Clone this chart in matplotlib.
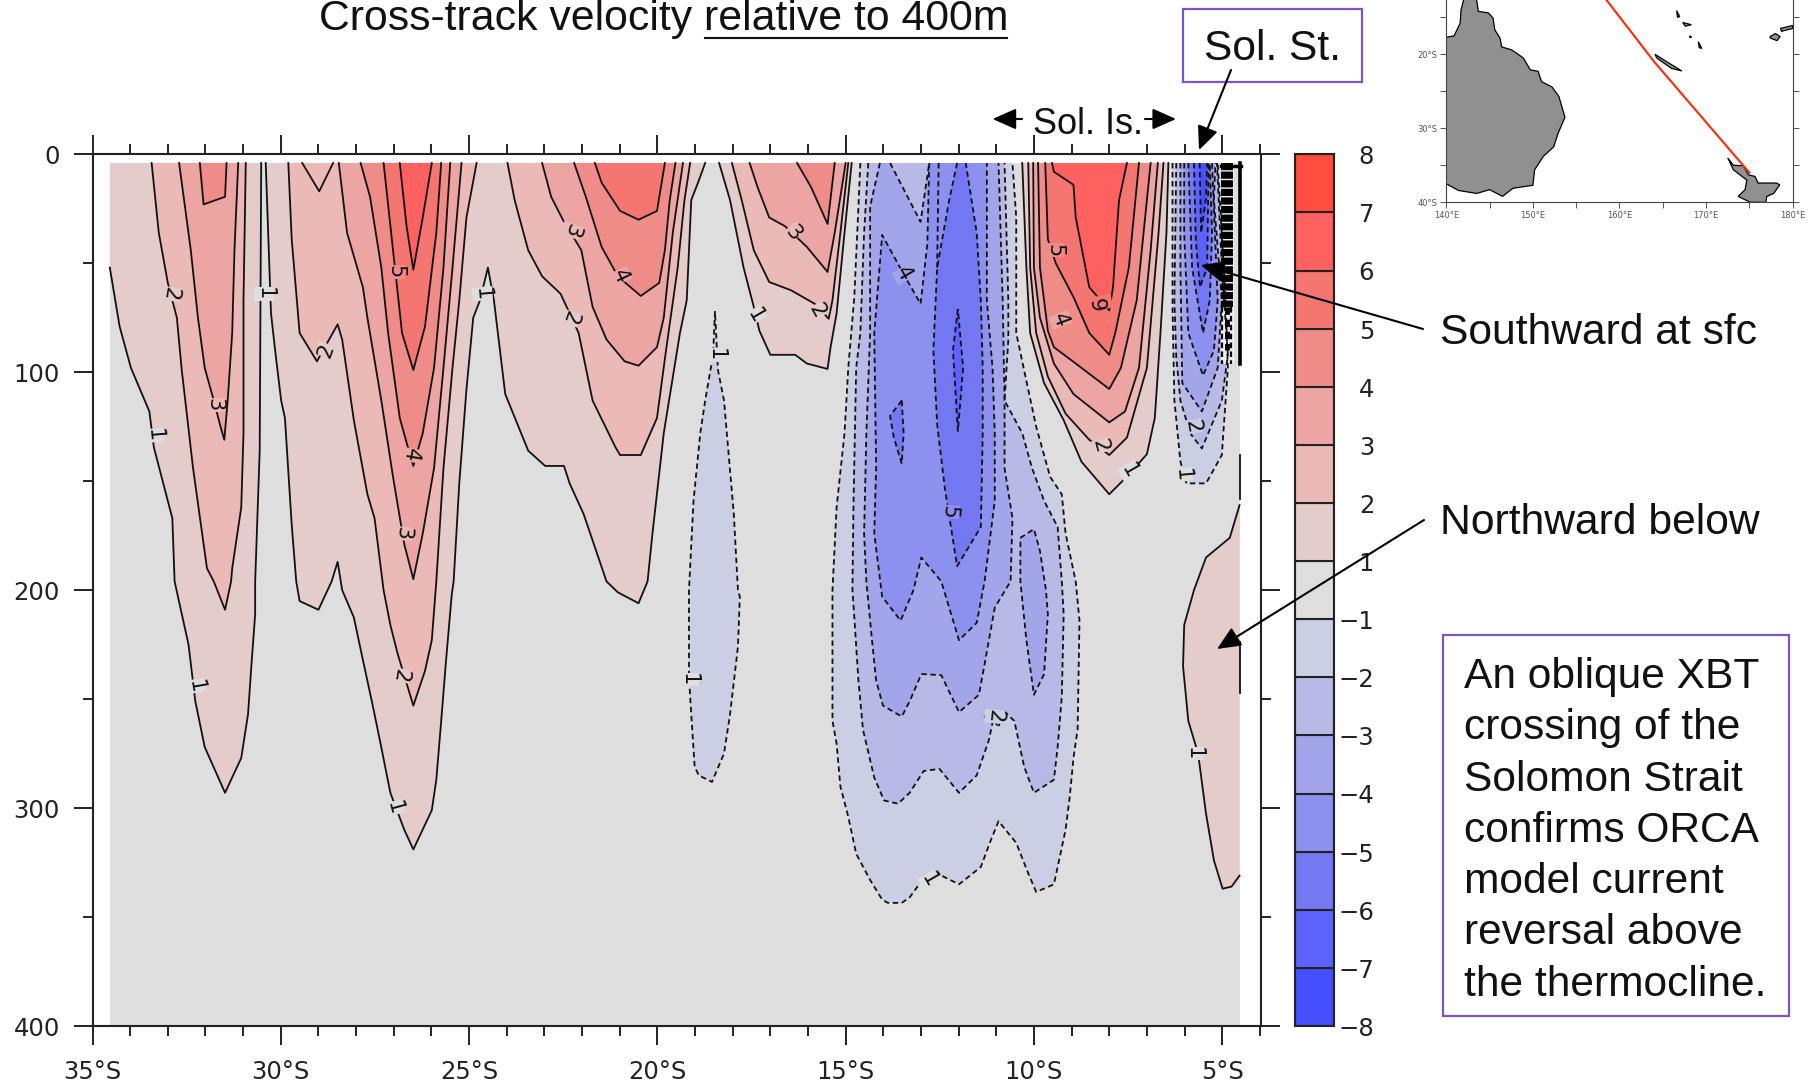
import matplotlib
matplotlib.use("Agg")
import matplotlib.pyplot as plt
from matplotlib.patches import Rectangle
from matplotlib.ticker import MultipleLocator, FixedLocator, FuncFormatter

W, H = 1813, 1086
TEXT_FONT = "Liberation Sans"
AXIS_FONT = "DejaVu Sans"

# contour outlines: (lon, depth)
A1 = ([-34.54, -34.28, -33.98, -33.49, -33.37, -32.88, -32.82, -32.45, -32.27, -32.02, -31.48, -31.05, -30.87, -30.77, -30.68, -30.68, -30.56, -30.52],
      [52, 79, 98, 118, 134.5, 167, 196, 225, 251, 272, 293, 277, 257, 232, 211, 196, 136, 4])
BC1 = ([-30.4, -30.26, -30.13, -29.99, -29.89, -29.71, -29.59, -29.5, -29.0, -28.65, -28.49, -28.37, -28.06, -27.82, -27.57, -27.35, -27.09, -26.72, -26.48, -25.99, -25.87, -25.74, -25.62, -25.46, -25.41, -25.26, -25.07, -24.89, -24.71, -24.5, -24.34, -24.04, -23.43, -22.98, -22.48, -22.33, -21.96, -21.35, -21.05, -20.5, -20.26, -20.13, -19.83, -19.4, -19.22, -19.1, -18.92, -18.73],
       [4, 73, 93, 113, 121, 170, 196, 205, 209, 196, 187, 200, 212.5, 232, 252, 270.5, 293, 310, 319, 301, 287, 260, 234, 202, 196, 151, 108, 75, 67, 52, 67, 110, 136, 143, 143, 151, 165, 196, 201, 206, 196, 174, 128, 82, 67, 21, 13, 4])
D1 = ([-18.36, -18.07, -17.71, -17.44, -17.29, -17.0, -16.34, -16.03, -15.48, -15.4, -15.24, -15.03, -14.84],
      [4, 21, 52, 70, 81, 92, 92, 96, 98.5, 88.5, 73, 36, 4])
G1 = ([-10.31, -10.2, -10.1, -9.73, -9.21, -8.74, -8.0, -7.48, -7.0, -6.79, -6.64, -6.48, -6.43],
      [4, 52, 82, 105, 122, 141, 156, 147, 137.6, 121, 82, 36, 4])
H1 = ([-4.54, -4.8, -5.43, -5.75, -6.01, -6.04, -5.9, -5.64, -5.43, -5.22, -4.99, -4.75, -4.54],
      [161, 176, 185, 200, 216, 235, 260, 275, 302.6, 324, 337, 336, 331])

A2 = ([-33.43, -33.24, -33.0, -32.76, -32.63, -32.33, -31.96, -31.78, -31.48, -31.32, -31.29, -31.05, -30.99, -30.99, -30.93],
      [4, 36, 59, 75, 99, 144, 190, 196, 209, 196, 190, 162, 128, 67, 4])
B2 = ([-29.8, -29.71, -29.5, -29.04, -28.49, -28.37, -28.06, -27.7, -27.51, -27.27, -27.09, -26.9, -26.48, -26.17, -25.99, -25.87, -25.68, -25.44, -25.26, -25.07, -24.8],
      [4, 39, 82, 95, 78, 85, 122, 156, 167, 200, 216, 229, 253, 237, 223, 196, 144, 98, 67, 29, 4])
C2 = ([-23.98, -23.79, -23.43, -23.06, -22.57, -22.09, -21.72, -21.11, -20.99, -20.44, -20.01, -19.77, -19.46, -19.28, -19.13],
      [4, 21, 44, 56, 64, 82, 113, 134.5, 138, 138, 121, 90, 52, 21, 4])
D2 = ([-18.02, -17.76, -17.44, -17.03, -16.45, -15.82, -15.45, -15.35, -15.14, -14.93],
      [4, 21, 44, 58.6, 62.4, 68.6, 75.5, 67, 36, 4])
G2 = ([-10.15, -10.1, -9.94, -9.63, -9.16, -8.53, -8.0, -7.53, -7.0, -6.69, -6.56],
      [4, 52, 82, 102, 119, 131, 138, 130, 98, 36, 4])

A3 = ([-32.7, -32.39, -32.2, -32.02, -31.78, -31.6, -31.5, -31.41, -31.29, -31.23, -31.13],
      [4, 44, 75, 98, 113, 125, 131, 113, 82, 44, 4])
WEDGE3 = ([-29.43, -28.98, -28.61], [4, 17, 4])
B3 = ([-28.46, -28.24, -27.82, -27.7, -27.33, -27.02, -26.72, -26.48, -26.23, -25.93, -25.68, -25.44, -25.2],
      [4, 36, 61, 75, 113, 148, 179, 195, 174, 144, 98, 52, 4])
C3 = ([-23.06, -22.82, -22.51, -22.02, -21.72, -21.35, -20.87, -20.5, -20.01, -19.83, -19.59, -19.32],
      [4, 19.5, 30, 44, 70, 85, 95, 97, 88.5, 75, 36, 4])
D3 = ([-17.55, -17.34, -17.03, -16.61, -16.03, -15.48, -15.29, -15.0],
      [4, 15, 29, 33, 42.5, 54, 36, 4])
G3 = ([-10.02, -10.0, -9.84, -9.47, -8.95, -8.0, -7.58, -7.21, -6.9, -6.71],
      [4, 52, 75, 96, 110, 123, 118, 98, 44, 4])

A4 = ([-32.15, -32.05, -31.48, -31.44], [4, 23, 19.5, 4])
B4 = ([-27.88, -27.63, -27.33, -27.15, -26.84, -26.6, -26.48, -26.23, -25.93, -25.68, -25.5],
      [4, 19.5, 52, 82, 121, 136, 143, 128, 98, 52, 4])
C4 = ([-22.21, -21.9, -21.48, -21.05, -20.44, -19.95, -19.8, -19.67, -19.52],
      [4, 19.5, 42.5, 56, 65, 59, 44, 21, 4])
D4 = ([-16.29, -15.92, -15.48, -15.29], [4, 15, 32, 4])
G4 = ([-9.89, -9.84, -9.63, -9.47, -8.89, -8.0, -7.69, -7.27, -7.0, -6.9],
      [4, 52, 81, 88.5, 96, 107.7, 98, 67, 21, 4])

B5 = ([-27.27, -27.02, -26.78, -26.48, -26.17, -25.87, -25.74], [4, 44, 82, 99, 79, 36, 4])
C5 = ([-21.66, -21.48, -20.99, -20.5, -20.01, -19.8], [4, 13, 26, 30, 26, 4])
G5 = ([-9.7, -9.63, -9.42, -8.95, -8.53, -8.0, -7.84, -7.48, -7.21], [4, 39, 50, 65.5, 82, 92, 82, 52, 4])

B6 = ([-26.84, -26.66, -26.48, -26.23, -25.99], [4, 33, 53, 29, 4])
G6 = ([-9.52, -9.47, -8.95, -8.89, -8.53, -8.0, -7.9, -7.74, -7.53], [4, 8, 14, 29, 61, 71.6, 61, 21, 4])

L1 = ([-18.47, -18.52, -18.73, -18.86, -19.04, -19.16, -19.16, -19.1, -19.01, -18.9, -18.55, -18.23, -18.07, -17.86, -17.81, -17.86, -17.97, -18.23, -18.39, -18.47],
      [72, 92, 113, 128, 159, 200, 240, 257, 281, 285, 288, 275, 257, 226, 203, 200, 165, 113, 99, 72])
M1 = ([-14.61, -14.66, -14.77, -14.93, -14.98, -15.03, -15.24, -15.35, -15.35, -15.24, -15.14, -14.93, -14.72, -14.35, -14.03, -13.88, -13.51, -13.3, -12.88, -12.57, -11.99, -11.41, -11.15, -10.94, -10.47, -10.15, -9.94, -9.47, -9.37, -9.16, -9.05, -8.95, -8.84, -8.79, -8.89, -9.16, -9.26, -9.57, -9.94, -10.2, -10.47, -10.47, -10.57],
      [4, 24, 65.5, 98, 113, 128, 162, 200, 260, 270.5, 290, 304, 321, 333, 342, 343.5, 343.5, 341, 331, 330, 335, 327, 315, 306, 316, 330, 338.5, 335, 327, 310, 295, 277, 264, 214, 196, 174, 156, 148, 125, 104, 82, 29, 4])
S1 = ([-6.32, -6.32, -6.27, -6.11, -5.95, -5.43, -5.01, -4.85, -4.91, -5.12],
      [4, 70, 113, 141, 151, 151, 138, 98, 67, 4])

M2 = ([-14.4, -14.51, -14.61, -14.72, -14.79, -14.82, -14.77, -14.66, -14.54, -14.24, -13.98, -13.61, -13.3, -12.93, -12.51, -11.99, -11.52, -11.2, -11.1, -11.31, -11.15, -10.94, -10.83, -10.52, -10.26, -10.0, -9.47, -9.37, -9.26, -9.21, -9.26, -9.37, -9.73, -10.05, -10.31, -10.78, -10.68, -10.68, -10.78],
      [4, 36, 82, 98, 159, 200, 212.5, 241.5, 264, 286, 296.5, 298, 293, 283, 282, 293, 285, 269, 261, 258, 257, 263, 255, 260, 281, 293, 287, 272, 249, 211, 196, 171, 159, 144, 128, 113, 85, 67, 4])
S2 = ([-6.22, -6.27, -6.22, -6.11, -5.85, -5.54, -5.01, -4.85, -5.01, -5.14],
      [4, 67, 93, 113, 128, 135, 113, 92, 52, 4])

M3 = ([-14.09, -14.35, -14.35, -14.45, -14.51, -14.45, -14.3, -14.19, -14.01, -13.51, -13.3, -12.99, -12.46, -11.99, -11.46, -11.31, -11.04, -10.62, -10.57, -10.78, -10.78, -10.83, -10.94],
      [4, 24, 82, 128, 174, 196, 223, 241.5, 253, 258, 251, 238.5, 239, 256, 248, 234, 208, 196, 167, 144, 113, 67, 4])
M3_WEDGE = ([-13.82, -13.01, -12.78], [4, 31, 4])
M3_LOBE = ([-10.36, -10.0, -9.84, -9.68, -9.63, -9.73, -10.0, -10.2, -10.36, -10.36],
           [176, 172, 182, 200, 211, 238.5, 248, 223, 196, 176])
S3 = ([-6.11, -6.11, -6.06, -5.54, -5.12, -5.01, -5.22, -5.18],
      [4, 52, 105, 118, 98, 67, 21, 4])

M4 = ([-12.78, -12.83, -13.01, -13.46, -14.03, -14.24, -14.19, -14.24, -14.03, -13.54, -13.2, -12.99, -12.46, -11.99, -11.52, -11.31, -11.04, -11.04, -11.1, -11.25, -11.25],
      [4, 41, 68.6, 55, 37, 82, 144, 174, 203, 214, 200, 185, 196, 223, 215, 196, 159, 128, 98, 67, 4])
S4 = ([-6.01, -6.01, -5.9, -5.51, -5.22, -5.12, -5.27], [4, 36, 82, 101.5, 90, 67, 4])

M5 = ([-12.04, -12.25, -12.57, -12.67, -12.57, -12.36, -12.04, -11.41, -11.36, -11.36, -11.41, -11.52, -11.81],
      [4, 21, 52, 90, 124, 154, 189, 171, 128, 98, 67, 36, 4])
M5_SMALL = ([-13.51, -13.82, -13.72, -13.51, -13.46, -13.51], [113, 120, 130, 142, 128, 113])
M5_LINE = ([-12.53, -12.57], [4, 52])
S5 = ([-5.9, -5.8, -5.51, -5.33, -5.27, -5.33], [4, 52, 82, 67, 36, 4])

M6 = ([-12.02, -12.15, -12.02, -11.88, -12.02], [71, 90, 127, 98, 71])
S6 = ([-5.75, -5.7, -5.59, -5.4, -5.36], [4, 40, 61, 52, 4])
S7 = ([-5.6, -5.56, -5.43, -5.4], [4, 36, 20, 4])

# drawn lowest level first, (level, outline)
CONTOURS = [(1, A1), (1, BC1), (1, D1), (1, G1), (1, H1),
            (2, A2), (2, B2), (2, C2), (2, D2), (2, G2),
            (3, A3), (3, B3), (3, C3), (3, D3), (3, G3),
            (2, WEDGE3),
            (4, A4), (4, B4), (4, C4), (4, D4), (4, G4),
            (5, B5), (5, C5), (5, G5),
            (6, B6), (6, G6),
            (-1, L1), (-1, M1), (-1, S1),
            (-2, M2), (-2, S2),
            (-3, M3), (-3, M3_LOBE), (-3, S3),
            (-2, M3_WEDGE),
            (-4, M4), (-4, S4),
            (-5, M5), (-5, M5_SMALL), (-5, S5),
            (-6, M6), (-6, S6),
            (-7, S7)]

# colour of the band beyond each level
BAND_COLORS = {7: "#ff4d40", 6: "#ff6060", 5: "#f57570", 4: "#f08c88", 3: "#eda5a3",
               2: "#ebbab7", 1: "#e4cccb", 0: "#dedede", -1: "#cccee3", -2: "#b8b9e6",
               -3: "#a2a5ea", -4: "#8c90ee", -5: "#7378f2", -6: "#5d63fa", -7: "#4650ff"}
CBAR_LABELS = ["−8", "−7", "−6", "−5", "−4", "−3", "−2", "−1", "1", "2", "3", "4", "5", "6", "7", "8"]
CBAR_KEYS = [-7, -6, -5, -4, -3, -2, -1, 0, 1, 2, 3, 4, 5, 6, 7]

LABEL_LEVEL = [2, 1, 3, 1, 5, 2, 4, 3, 1, 3, 2, 4,
               1, 2, 1, -1, 3, 2, 1, -1, -4, -5, 5, 4, 6, 2, 1, -2, -1,
               -2, -1, 1]
LABEL_LON = [-32.94, -30.44, -31.76, -33.37, -26.96, -28.8, -26.56, -26.76, -24.65, -22.27, -22.33, -20.99,
             -32.27, -26.84, -26.99, -19.16, -16.4, -15.75, -17.4, -18.44, -13.46, -12.25, -9.47, -9.3, -8.2, -8.25, -7.47, -5.8, -6.06,
             -11.04, -12.78, -5.75]
LABEL_DEP = [64, 64, 115, 129, 54, 90, 138, 174, 64, 35, 75, 56,
             244, 239, 300, 241, 36, 72, 74, 92, 55, 164, 44, 76, 68, 134, 145, 125, 147,
             258, 333, 275]
LABEL_ROT = [-100, -90, -90, -85, -90, 70, -100, -95, -85, -110, -110, -65,
             -80, -100, -75, -90, -50, -60, -60, -90, -60, -95, -90, -70, 100, -75, -60, -80, -85,
             -95, -60, -90]

# inset map
AUS_LON = [140, 140.9, 141.6, 141.7, 142.0, 141.9, 143.6, 143.5, 143.7, 144.85, 145.4, 145.6, 146.2, 146.4, 147.55, 148.9, 149.7, 150.6, 151.0, 152.2, 153.0, 153.7, 152.9, 152.4, 151.2, 150.2, 150.0, 147.7, 146.5, 145.0, 143.5, 141.4, 140]
AUS_LAT = [-17.7, -17.5, -15.8, -14.0, -12.65, -11, -11, -12.65, -14.2, -14.4, -15.1, -16.7, -17.8, -19.0, -19.4, -20.5, -22.1, -22.3, -23.7, -24.4, -25.7, -28.5, -30.7, -32.5, -33.8, -35.6, -37.7, -38.1, -39.2, -38.3, -38.8, -38.4, -37.5]
NCAL_LON = [164.1, 165.45, 167.2, 166.0, 164.3]
NCAL_LAT = [-20, -21, -22.25, -21.9, -20.5]
NZ_LON = [172.5, 173.15, 174.3, 174.9, 175.65, 176, 178.15, 178.5, 177.8, 177, 176.9, 175.1, 173.7, 174.5, 174.7, 173.15]
NZ_LAT = [-34, -35, -35.05, -36.3, -36.5, -37.4, -37.4, -37.65, -38.8, -39.2, -40, -40, -39.2, -38.3, -37, -35.6]
FIJI_LON = [177.4, 178, 178.55, 178.2, 177.4]
FIJI_LAT = [-17.6, -17.2, -17.6, -18.15, -17.8]
VANUA_LON = [178.6, 180, 180, 178.7]
VANUA_LAT = [-16.5, -16.1, -16.5, -16.9]
VAN_LON = [[166.6, 166.95, 166.7], [167.3, 168.3, 167.6], [168.1, 168.35, 168.1], [169.1, 169.5, 169.2]]
VAN_LAT = [[-14.1, -14.9, -15.0], [-15.7, -16.0, -16.2], [-17.5, -17.7, -17.7], [-18.3, -19.2, -19.1]]
TRACK_LON = [157.0, 164.0, 175.0]
TRACK_LAT = [-10.4, -21.0, -36.0]

XTICKS = [-35, -30, -25, -20, -15, -10, -5]
YTICKS = [0, 100, 200, 300, 400]
MAP_XTICKS = [140, 150, 160, 170, 180]
MAP_YTICKS = [-40, -30, -20]

BOX_LINES = ["An oblique XBT", "crossing of the", "Solomon Strait", "confirms ORCA",
             "model current", "reversal above", "the thermocline."]


def px_axes(fig, left, top, right, bottom):
    return fig.add_axes([left / W, 1 - bottom / H, (right - left) / W, (bottom - top) / H])


def draw_contour(ax, level, outline):
    lon, dep = outline
    ax.fill(lon, dep, color=BAND_COLORS[level], lw=0, zorder=2)
    style = "-" if level > 0 else (0, (3.0, 2.0))
    ax.plot(lon, dep, color="#111111", lw=1.3, ls=style, zorder=4)


fig = plt.figure(figsize=(W / 100, H / 100), dpi=100, facecolor="white")
ax = px_axes(fig, 92.5, 154.3, 1261, 1026)

ax.fill([-34.54, -4.54, -4.54, -34.54], [4, 4, 400, 400], color=BAND_COLORS[0], lw=0, zorder=1)
# corner of the first band along the left edge
ax.fill([-34.54, -34.54, -30.52], [4, 52, 4], color=BAND_COLORS[1], lw=0, zorder=2)
for level, outline in CONTOURS:
    draw_contour(ax, level, outline)
ax.plot(*M5_LINE, color="#111111", lw=1.3, ls=(0, (3.0, 2.0)), zorder=4)

# unresolved contours jammed against the coast in the strait
ax.fill([-5.03, -4.7, -4.7, -5.03], [4, 4, 96, 96], color="#eeeeee", lw=0, zorder=3)
ax.plot([-4.87, -4.87], [4, 70], color="black", lw=8.6, ls=(0, (0.6, 0.12)), solid_capstyle="butt", zorder=5)
ax.plot([-5.0, -5.0], [70, 96], color="black", lw=1.6, ls=(0, (2.5, 1.5)), zorder=5)
ax.plot([-4.76, -4.76], [70, 96], color="black", lw=1.6, ls=(0, (2.5, 1.5)), zorder=5)
ax.plot([-4.88, -4.88], [70, 90], color="black", lw=3.5, ls=(0, (1.5, 1.0)), zorder=5)
ax.plot([-5.03, -4.5], [5.5, 5.5], color="black", lw=2.5, zorder=5)
ax.plot([-4.54, -4.54], [4, 96], color="black", lw=2.6, zorder=5)
ax.plot([-4.54, -4.54], [138, 158], color="#111111", lw=1.3, zorder=4)
ax.plot([-4.52, -4.52], [224, 247], color="#111111", lw=1.3, zorder=4)

# the labels sit in a gap cut out of their contour
for level, lon, dep, rot in zip(LABEL_LEVEL, LABEL_LON, LABEL_DEP, LABEL_ROT):
    gap = level - 1 if level > 0 else level + 1
    ax.text(lon, dep, str(abs(level)), fontsize=15, family=AXIS_FONT, rotation=rot, rotation_mode="anchor",
            ha="center", va="center", color="#111111", zorder=6,
            bbox=dict(facecolor=BAND_COLORS[gap], edgecolor="none", pad=0.2))

ax.set_xlim(-35, -3.97)
ax.set_ylim(400, 0)
ax.xaxis.set_major_locator(FixedLocator(XTICKS))
ax.xaxis.set_minor_locator(MultipleLocator(1))
ax.yaxis.set_major_locator(FixedLocator(YTICKS))
ax.yaxis.set_minor_locator(MultipleLocator(50))
ax.xaxis.set_major_formatter(FuncFormatter(lambda v, _: f"{abs(int(v))}°S"))
ax.tick_params(axis="both", which="major", length=13.7, width=1.4, direction="out",
               top=True, right=True, labelsize=17.5, colors="#222222")
ax.tick_params(axis="both", which="minor", length=7.2, width=1.4, direction="out", top=True, right=True, colors="#222222")
ax.tick_params(axis="x", which="major", pad=10.8)
ax.tick_params(axis="y", which="major", pad=9.7)
for lab in ax.get_xticklabels() + ax.get_yticklabels():
    lab.set_family(AXIS_FONT)
for s in ax.spines.values():
    s.set_linewidth(1.5)
    s.set_color("#222222")

# colour bar
cax = px_axes(fig, 1295, 154.3, 1334, 1026)
for i, key in enumerate(CBAR_KEYS):
    cax.bar(0.5, 1, width=1, bottom=i, color=BAND_COLORS[key], edgecolor="#222222", linewidth=1.5)
for i, lab in enumerate(CBAR_LABELS):
    cax.text(2.03, i - 0.05, lab, fontsize=17.5, family=AXIS_FONT, ha="right", va="center", color="#222222", clip_on=False)
cax.set_xlim(0, 1)
cax.set_ylim(0, 15)
cax.set_xticks([])
cax.set_yticks([])
for s in cax.spines.values():
    s.set_linewidth(1.5)
    s.set_color("#222222")

# inset map, cut by the top of the page
mx = px_axes(fig, 1446.3, 0, 1792.7, 202.3)
for lon, lat in [(AUS_LON, AUS_LAT), (NCAL_LON, NCAL_LAT), (NZ_LON, NZ_LAT), (FIJI_LON, FIJI_LAT), (VANUA_LON, VANUA_LAT)] + list(zip(VAN_LON, VAN_LAT)):
    mx.fill(lon, lat, facecolor="#909090", edgecolor="black", lw=0.9, zorder=2)
mx.plot(TRACK_LON, TRACK_LAT, color="#ff2a00", lw=1.5, zorder=3)
mx.set_xlim(140, 180)
mx.set_ylim(-40, -12.66)
mx.xaxis.set_major_locator(FixedLocator(MAP_XTICKS))
mx.xaxis.set_minor_locator(MultipleLocator(5))
mx.yaxis.set_major_locator(FixedLocator(MAP_YTICKS))
mx.yaxis.set_minor_locator(MultipleLocator(5))
mx.xaxis.set_major_formatter(FuncFormatter(lambda v, _: f"{int(v)}°E"))
mx.yaxis.set_major_formatter(FuncFormatter(lambda v, _: f"{abs(int(v))}°S"))
mx.tick_params(axis="both", which="both", length=4.2, width=0.7, direction="out", right=True,
               labelsize=6, colors="#555555", pad=2)
mx.spines["top"].set_visible(False)
for s in mx.spines.values():
    s.set_linewidth(0.8)
    s.set_color("#444444")

# slide annotations in pixel coordinates
ov = fig.add_axes([0, 0, 1, 1], zorder=10)
ov.set_xlim(0, W)
ov.set_ylim(H, 0)
ov.axis("off")
ov.patch.set_alpha(0)

ov.text(319, 19, "Cross-track velocity relative to 400m", fontsize=30.8, family=TEXT_FONT,
        ha="left", va="center", color="#111111")
ov.plot([705, 1007], [38, 38], color="#111111", lw=1.5)

for (l, t, r, b) in [(1183, 9, 1362, 82), (1443, 635, 1789, 1016)]:
    ov.add_patch(Rectangle((l, t), r - l, b - t, fill=False, edgecolor="#7b55cc", lw=1.6))
ov.text(1272, 49, "Sol. St.", fontsize=30.6, family=TEXT_FONT, ha="center", va="center", color="#111111")
ov.text(1088, 125, "Sol. Is.", fontsize=26, family=TEXT_FONT, ha="center", va="center", color="#111111")
ov.text(1439.5, 333, "Southward at sfc", fontsize=30.7, family=TEXT_FONT, ha="left", va="center", color="#111111")
ov.text(1439.5, 523, "Northward below", fontsize=30.7, family=TEXT_FONT, ha="left", va="center", color="#111111")
for i, line in enumerate(BOX_LINES):
    ov.text(1464, 677 + i * 51.3, line, fontsize=30.6, family=TEXT_FONT, ha="left", va="center", color="#111111")

for tip, start in [((1199, 150), (1231, 70)), ((1200.7, 265), (1423, 329)), ((1217, 649), (1424, 520)),
                   ((992.6, 119), (1022, 119)), ((1176, 119), (1145, 119))]:
    ov.annotate("", xy=tip, xytext=start,
                arrowprops=dict(arrowstyle="-|>,head_length=0.45,head_width=0.2", mutation_scale=32,
                                lw=1.5, color="black", shrinkA=0, shrinkB=0))

fig.savefig("out.png", dpi=100)
